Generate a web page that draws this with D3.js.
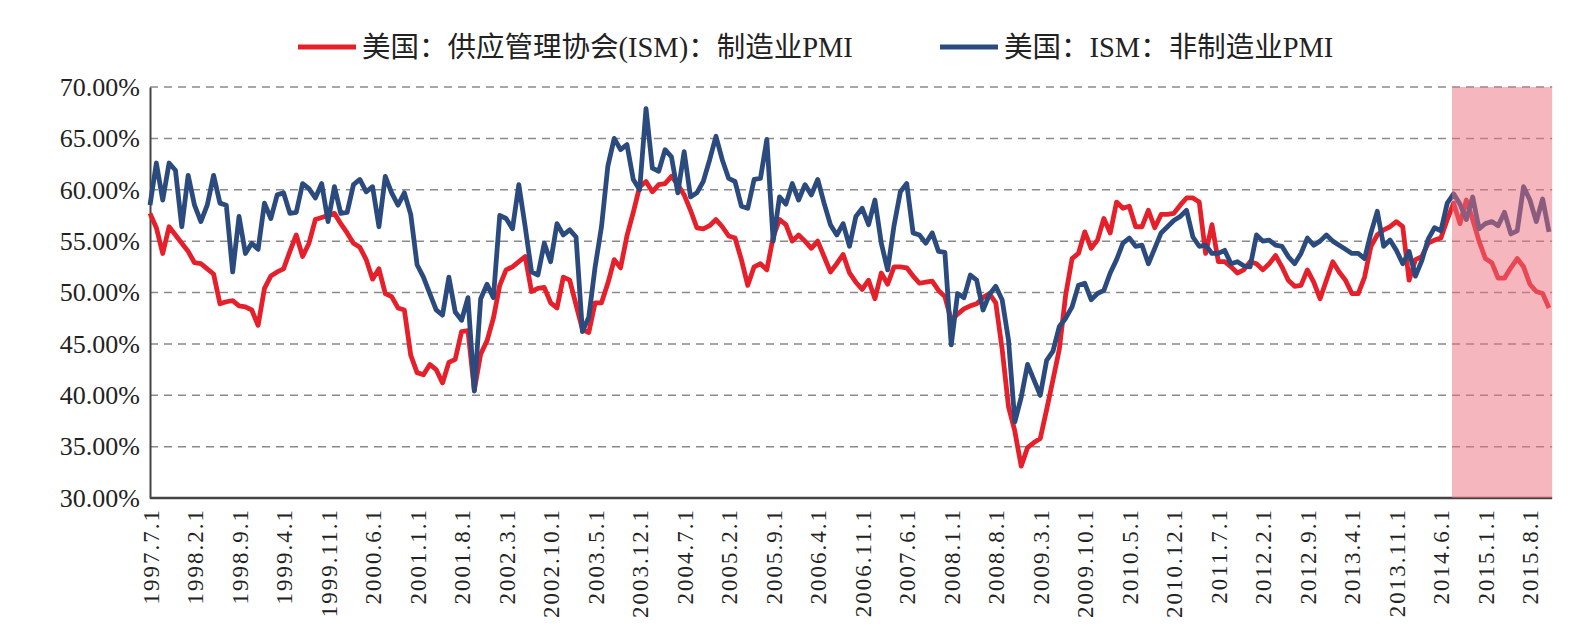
<!DOCTYPE html>
<html>
<head>
<meta charset="utf-8">
<script src="https://cdn.jsdelivr.net/npm/d3@7"></script>
<style>
  body { margin: 0; background: #fff; }
  text { font-family: "Liberation Serif", "Noto Sans CJK SC", serif; fill: #222; }
</style>
</head>
<body>
<svg id="chart" width="1586" height="644"></svg>
<script>
const RED = "#e5202a";
const BLUE = "#2b4b7e";
const PINK = "rgba(236,110,126,0.5)";
const GRID = "#8a8a8a";
const AXIS = "#444";

// series names (legend)
const seriesNames = ["美国：供应管理协会(ISM)：制造业PMI", "美国：ISM：非制造业PMI"];

// monthly categories 1997.7 .. 2015.11
const months = [];
for (let i = 0; i < 221; i++) {
    const t = 1997 * 12 + 6 + i;
    months.push(Math.floor(t / 12) + "." + (t % 12 + 1));
}

// ISM manufacturing PMI
const manufacturing = [
    57.7, 56.3, 53.8, 56.4, 55.6, 54.8, 54.0, 52.9, 52.8, 52.3, 51.8, 48.9,
    49.1, 49.2, 48.7, 48.6, 48.3, 46.8, 50.4, 51.6, 52.0, 52.3, 54.0, 55.6,
    53.5, 54.8, 57.1, 57.3, 57.5, 57.7, 56.7, 55.8, 54.8, 54.4, 53.2, 51.3,
    52.3, 49.9, 49.6, 48.5, 48.3, 43.9, 42.2, 42.0, 43.0, 42.5, 41.2, 43.2,
    43.5, 46.2, 46.3, 40.5, 44.0, 45.3, 47.5, 50.7, 52.2, 52.5, 53.0, 53.5,
    50.1, 50.4, 50.5, 49.0, 48.5, 51.5, 51.2, 48.8, 46.4, 46.1, 49.0, 49.0,
    50.9, 53.2, 52.4, 55.5, 57.8, 60.3, 60.8, 59.8, 60.5, 60.6, 61.3, 60.5,
    59.5, 58.0, 56.3, 56.2, 56.5, 57.1, 56.4, 55.5, 55.3, 53.2, 50.7, 52.5,
    52.8, 52.2, 55.4, 57.1, 56.6, 55.0, 55.6, 55.0, 54.3, 55.0, 53.5, 52.0,
    52.8, 53.7, 51.9, 51.0, 50.3, 51.2, 49.4, 51.9, 50.8, 52.5, 52.5, 52.4,
    51.6, 50.9, 51.0, 51.1, 50.2, 49.6, 47.3, 47.9, 48.4, 48.7, 48.9, 49.5,
    49.9, 49.0, 44.5, 38.9, 36.5, 33.1, 34.9, 35.4, 35.8, 38.6, 41.5, 44.5,
    49.8, 53.3, 53.8, 55.9, 54.3, 55.1, 57.2, 55.8, 58.8, 58.2, 58.4, 56.4,
    56.4, 58.0, 56.3, 57.6, 57.6, 57.7, 58.5, 59.2, 59.2, 58.8, 53.8, 56.6,
    53.0, 53.0, 52.5, 51.9, 52.2, 53.0, 52.8, 52.2, 52.8, 53.6, 52.5, 51.2,
    50.6, 50.7, 52.2, 51.0, 49.4, 51.2, 53.0, 52.0, 51.2, 49.9, 49.9, 51.5,
    54.5, 55.6, 56.1, 56.4, 56.9, 56.4, 51.2, 53.2, 53.5, 54.8, 55.1, 55.3,
    57.1, 58.7, 56.7, 59.0, 57.1, 55.0, 53.3, 52.9, 51.4, 51.4, 52.4, 53.3,
    52.5, 50.8, 50.1, 49.9, 48.5
];

// ISM non-manufacturing PMI
const nonManufacturing = [
    58.5, 62.6, 59.0, 62.6, 61.9, 56.4, 61.4, 58.5, 56.9, 58.5, 61.4, 58.7,
    58.5, 52.0, 57.4, 53.8, 54.8, 54.2, 58.7, 57.2, 59.5, 59.7, 57.7, 57.8,
    60.6, 60.1, 59.2, 60.6, 56.9, 60.3, 57.7, 57.8, 60.5, 61.0, 59.8, 60.3,
    56.4, 61.3, 59.7, 58.5, 59.7, 57.6, 52.7, 51.5, 49.9, 48.3, 47.8, 51.5,
    48.1, 47.3, 49.5, 40.4, 49.4, 50.8, 49.5, 57.5, 57.2, 56.2, 60.5, 56.4,
    52.0, 51.7, 54.8, 53.0, 56.7, 55.6, 56.1, 55.4, 46.2, 47.6, 52.5, 56.4,
    62.3, 65.0, 63.9, 64.4, 61.0, 60.0, 67.9, 62.1, 61.8, 63.9, 63.2, 59.7,
    63.7, 59.3, 59.7, 60.8, 62.9, 65.2, 62.9, 61.1, 60.8, 58.4, 58.2, 61.0,
    61.1, 64.9, 55.0, 59.3, 58.6, 60.6, 59.0, 60.5, 59.5, 61.0, 58.7, 56.6,
    55.6, 56.7, 54.5, 57.4, 58.2, 56.6, 59.0, 54.8, 52.2, 56.5, 59.8, 60.6,
    55.8, 55.6, 54.8, 55.8, 54.0, 53.9, 44.9, 49.9, 49.5, 51.7, 51.2, 48.3,
    49.8, 50.6, 49.3, 45.4, 37.4, 39.8, 43.0, 41.5, 40.0, 43.4, 44.3, 46.7,
    47.5, 48.6, 50.7, 50.9, 49.3, 49.9, 50.2, 51.9, 53.2, 54.8, 55.3, 54.5,
    54.6, 52.8, 54.3, 55.8, 56.4, 57.0, 57.4, 58.0, 55.4, 54.5, 54.6, 53.8,
    53.8, 54.1, 52.8, 53.0, 52.6, 52.5, 55.6, 55.0, 55.1, 54.6, 54.5, 53.5,
    52.8, 53.8, 55.3, 54.6, 55.0, 55.6, 55.0, 54.6, 54.2, 53.8, 53.8, 53.3,
    55.8, 57.9, 54.5, 55.1, 54.1, 52.8, 54.0, 51.6, 53.1, 55.2, 56.3, 56.0,
    58.7, 59.6, 58.6, 57.1, 59.3, 56.2, 56.7, 56.9, 56.5, 57.8, 55.7, 56.0,
    60.3, 59.0, 56.9, 59.1, 55.9
];

const tickLabels = [
    "1997.7.1", "1998.2.1", "1998.9.1", "1999.4.1", "1999.11.1", "2000.6.1",
    "2001.1.1", "2001.8.1", "2002.3.1", "2002.10.1", "2003.5.1", "2003.12.1",
    "2004.7.1", "2005.2.1", "2005.9.1", "2006.4.1", "2006.11.1", "2007.6.1",
    "2008.1.1", "2008.8.1", "2009.3.1", "2009.10.1", "2010.5.1", "2010.12.1",
    "2011.7.1", "2012.2.1", "2012.9.1", "2013.4.1", "2013.11.1", "2014.6.1",
    "2015.1.1", "2015.8.1"
];
const yTicks = [30, 35, 40, 45, 50, 55, 60, 65, 70];

// shaded period
const shadeFrom = "2014.8";


// Layout
m = { top: 87, right: 34, bottom: 146, left: 150 };
W = 1586; H = 644;

var svg = d3.select("#chart");

var x = d3.scalePoint()
    .domain(months)
    .range([m.left, 1549]);

var plotRight = x.range()[1] + x.step() / 2;

var y = d3.scaleLinear()
    .domain([30, 70])
    .range([H - m.bottom, m.top]);

/*=========================================================================
Grid + axes
=========================================================================*/
svg.append("g")
    .attr("class", "grid")
    .selectAll("line")
    .data(yTicks.filter(d => d > 30))
    .enter().append("line")
    .attr("x1", m.left)
    .attr("x2", plotRight)
    .attr("y1", d => y(d))
    .attr("y2", d => y(d))
    .attr("stroke", GRID)
    .attr("stroke-width", 1.5)
    .attr("stroke-dasharray", "8,6");

var yAxis = d3.axisLeft(y)
    .tickValues(yTicks)
    .tickSize(0)
    .tickPadding(10)
    .tickFormat(d => d3.format(".2f")(d) + "%");

svg.append("g")
    .attr("transform", `translate(${m.left},0)`)
    .call(yAxis)
    .call(g => g.select(".domain").attr("stroke", AXIS).attr("stroke-width", 2))
    .selectAll("text")
    .attr("font-size", 26)
    .attr("fill", "#222");

var xAxis = d3.axisBottom(x)
    .tickValues(tickLabels.map(t => t.replace(/\.1$/, "")))
    .tickSize(0)
    .tickFormat(d => d + ".1");

svg.append("g")
    .attr("transform", `translate(0,${y(30)})`)
    .call(xAxis)
    .call(g => g.select(".domain")
        .attr("d", `M${m.left},0H${plotRight}`)
        .attr("stroke", AXIS).attr("stroke-width", 2.5))
    .selectAll("text")
    .attr("font-size", 23)
    .attr("letter-spacing", "2px")
    .attr("fill", "#222")
    .attr("text-anchor", "end")
    .attr("dy", "0.35em")
    .attr("transform", "translate(0,10) rotate(-90)")
    .attr("x", 0)
    .attr("y", 0);

/*=========================================================================
Lines
=========================================================================*/
var line = d3.line()
    .x((d, i) => x(months[i]))
    .y(d => y(d));

svg.append("path")
    .datum(manufacturing)
    .attr("fill", "none")
    .attr("stroke", RED)
    .attr("stroke-width", 4.8)
    .attr("stroke-linejoin", "round")
    .attr("d", line);

svg.append("path")
    .datum(nonManufacturing)
    .attr("fill", "none")
    .attr("stroke", BLUE)
    .attr("stroke-width", 4.8)
    .attr("stroke-linejoin", "round")
    .attr("d", line);

// highlight box
svg.append("rect")
    .attr("x", x(shadeFrom) - x.step() / 4)
    .attr("y", y(70))
    .attr("width", plotRight - x(shadeFrom) + x.step() / 4)
    .attr("height", y(30) - y(70))
    .attr("fill", PINK);

/*=========================================================================
Legend
=========================================================================*/
var legendX = [298, 940];
var legend = svg.append("g").attr("class", "legend");
legend.selectAll("g")
    .data(seriesNames)
    .enter().append("g")
    .attr("transform", (d, i) => `translate(${legendX[i]},47)`)
    .each(function (d, i) {
        var g = d3.select(this);
        g.append("line")
            .attr("x1", 0).attr("x2", 58)
            .attr("stroke", i === 0 ? RED : BLUE)
            .attr("stroke-width", 5);
        g.append("text")
            .attr("x", 64)
            .attr("dy", "0.35em")
            .attr("font-size", 28.5)
            .text(d);
    });
</script>
</body>
</html>
